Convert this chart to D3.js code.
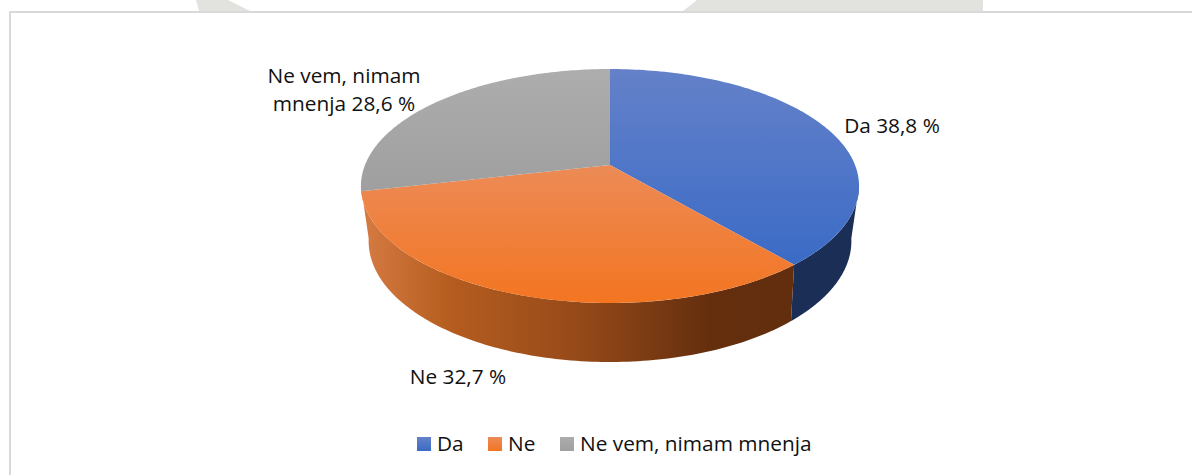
<!DOCTYPE html>
<html><head><meta charset="utf-8">
<script src="https://cdn.jsdelivr.net/npm/d3@7"></script>
<style>html,body{margin:0;padding:0;background:#fff;overflow:hidden}svg{display:block}text{font-family:"Open Sans",sans-serif;fill:#111}</style>
</head><body><svg id="c" width="1192" height="475"></svg>
<script>
const categories = ["Da", "Ne", "Ne vem, nimam mnenja"];
const values = [38.8, 32.7, 28.6];
const labelLines = [["Da 38,8 %"], ["Ne 32,7 %"], ["Ne vem, nimam", "mnenja 28,6 %"]];
const topFrom = ["#6481c9", "#ec8b57", "#adadad"];
const topTo = ["#3b6bc6", "#f37521", "#9f9f9f"];
const sideDark = "#1a2e56";
const sideStops = [[0, "#d67c44"], [0.2, "#b65d20"], [0.5, "#964a19"], [0.8, "#652f0e"], [1, "#622e0d"]];

const svg = d3.select("#c");
const defs = svg.append("defs");

// page decoration + frame
svg.selectAll("polygon.wm").data([
  [[196,0],[199,11],[250,11],[228,0]],
  [[697,0],[683,11],[983,11],[983,0]]
]).join("polygon").attr("points", d => d.join(" ")).attr("fill", "#e2e2de");
svg.append("path").attr("d", "M10,475V12H1192").attr("fill", "none").attr("stroke", "#d9d9d9").attr("stroke-width", 2);

// perspective projection of a unit disc
function projector(cx, cy, sx, sy, D) {
  return t => {
    const X = Math.sin(t), Y = -Math.cos(t), w = D / (D - Y);
    return [cx + sx * X * w, cy + sy * Y * w];
  };
}
const D = 5.571;
const topRim = projector(610, 165, 245, 113.2, D);
const lowRim = projector(610, 217, 236.5, 116, 5);
const tangent = Math.acos(1 / D);
const sideMin = Math.PI / 2 + (Math.PI / 2 - tangent), sideMax = 2 * Math.PI - sideMin;

const arcs = d3.pie().sort(null)(values);
const line = d3.line();
const sample = (a, b) => d3.range(0, 121).map(i => a + (b - a) * i / 120);

// gradients
categories.forEach((c, i) => {
  const g = defs.append("linearGradient").attr("id", "top" + i).attr("x1", 0).attr("y1", 0).attr("x2", 0).attr("y2", 1);
  g.append("stop").attr("offset", 0).attr("stop-color", topFrom[i]);
  g.append("stop").attr("offset", 1).attr("stop-color", topTo[i]);
});
const sg = defs.append("linearGradient").attr("id", "sideNe").attr("x1", 0).attr("y1", 0).attr("x2", 1).attr("y2", 0);
sideStops.forEach(s => sg.append("stop").attr("offset", s[0]).attr("stop-color", s[1]));

// side walls (the grey slice faces away from the viewer, so its wall stays hidden)
arcs.slice(0, 2).forEach((a, i) => {
  const s = Math.max(a.startAngle, sideMin), e = i === 1 ? sideMax : a.endAngle;
  const pts = sample(s, e).map(topRim).concat(sample(e, s).map(lowRim));
  svg.append("path").attr("d", line(pts) + "Z").attr("fill", i === 0 ? sideDark : "url(#sideNe)");
});
// top faces
arcs.forEach((a, i) => {
  const pts = [[610, 165]].concat(sample(a.startAngle, a.endAngle).map(topRim));
  svg.append("path").attr("d", line(pts) + "Z").attr("fill", `url(#top${i})`);
});

// data labels
const labelPos = [[892, 133], [458, 384], [344, 83]];
labelLines.forEach((ls, i) => {
  ls.forEach((t, j) => svg.append("text").attr("x", labelPos[i][0]).attr("y", labelPos[i][1] + j * 28)
    .attr("text-anchor", "middle").attr("font-size", 20.8).text(t));
});

// legend
const legendX = [417, 488, 560];
categories.forEach((c, i) => {
  svg.append("rect").attr("x", legendX[i]).attr("y", 437).attr("width", 14).attr("height", 14).attr("fill", `url(#top${i})`);
  svg.append("text").attr("x", legendX[i] + 20).attr("y", 451).attr("font-size", 20.8).text(c);
});
</script></body></html>
